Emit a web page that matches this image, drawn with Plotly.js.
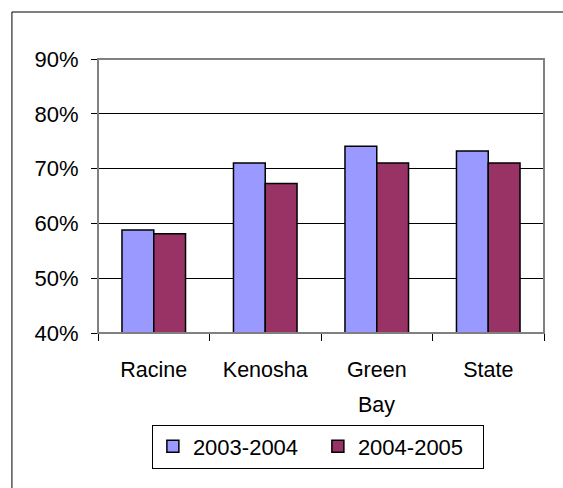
<!DOCTYPE html>
<html>
<head>
<meta charset="utf-8">
<script src="https://cdn.plot.ly/plotly-3.0.1.min.js"></script>
<style>
  html, body { margin: 0; padding: 0; background: #fff; }
  #myDiv { width: 563px; height: 488px; }
</style>
</head>
<body>
<div id="myDiv"></div>
<script>
var categories = ['Racine', 'Kenosha', 'Green Bay', 'State'];
var rates0304 = [0.588, 0.710, 0.741, 0.732];
var rates0405 = [0.581, 0.673, 0.710, 0.710];
var seriesNames = ['2003-2004', '2004-2005'];
var yTicks = [0.4, 0.5, 0.6, 0.7, 0.8, 0.9];

var font = 'Liberation Sans, Arial, sans-serif';

var trace1 = {
    x: categories,
    y: rates0304,
    name: seriesNames[0],
    type: 'bar',
    marker: { color: '#9999ff', line: { color: '#000', width: 1.5 } }
};

var trace2 = {
    x: categories,
    y: rates0405,
    name: seriesNames[1],
    type: 'bar',
    marker: { color: '#993366', line: { color: '#000', width: 1.5 } }
};

// first word on the axis, the rest as a second line placed further down
var firstWords = categories.map(c => c.split(' ')[0]);
var secondLines = [];
categories.forEach(function (c) {
    var parts = c.split(' ');
    if (parts.length > 1) {
        secondLines.push({
            x: c, xref: 'x', y: -0.263, yref: 'paper', yanchor: 'middle',
            text: parts.slice(1).join(' '), showarrow: false,
            font: { family: font, size: 21.5, color: '#000' }
        });
    }
});

var layout = {
    width: 563,
    height: 488,
    margin: { l: 98, r: 19, t: 59, b: 155 },
    paper_bgcolor: '#fff',
    plot_bgcolor: '#fff',
    font: { family: font, size: 21.5, color: '#000' },
    bargap: 0.43,
    bargroupgap: 0,
    showlegend: true,
    legend: {
        orientation: 'h',
        x: 0.493, xanchor: 'center',
        y: -0.334, yanchor: 'top',
        bordercolor: '#000', borderwidth: 1,
        entrywidth: 120,
        font: { family: font, size: 22, color: '#000' },
        traceorder: 'normal'
    },
    xaxis: {
        type: 'category',
        tickmode: 'array',
        tickvals: categories,
        ticktext: firstWords,
        tickson: 'boundaries',
        ticks: 'outside', ticklen: 7, tickcolor: '#000',
        ticklabelstandoff: 17,
        showline: true, linecolor: '#000', linewidth: 1,
        showgrid: false, zeroline: false,
        tickfont: { family: font, size: 21.5, color: '#000' }
    },
    yaxis: {
        range: [0.4, 0.9],
        tickvals: yTicks,
        tickformat: '.0%',
        ticks: 'outside', ticklen: 6, tickcolor: '#000',
        ticklabelstandoff: 8,
        showline: true, linecolor: '#000', linewidth: 1,
        showgrid: true, gridcolor: '#000', gridwidth: 1,
        zeroline: false,
        tickfont: { family: font, size: 22, color: '#000' }
    },
    shapes: [
        { type: 'rect', xref: 'paper', yref: 'paper', x0: 0, x1: 1, y0: 0, y1: 1,
          line: { color: '#808080', width: 2 }, layer: 'above' },
        { type: 'rect', xref: 'paper', yref: 'paper', x0: -0.193, x1: 1.2, y0: -0.8, y1: 1.1715,
          line: { color: '#000', width: 1 }, layer: 'below' }
    ],
    annotations: secondLines
};

Plotly.newPlot('myDiv', [trace1, trace2], layout, { displayModeBar: false, staticPlot: true });
</script>
</body>
</html>
